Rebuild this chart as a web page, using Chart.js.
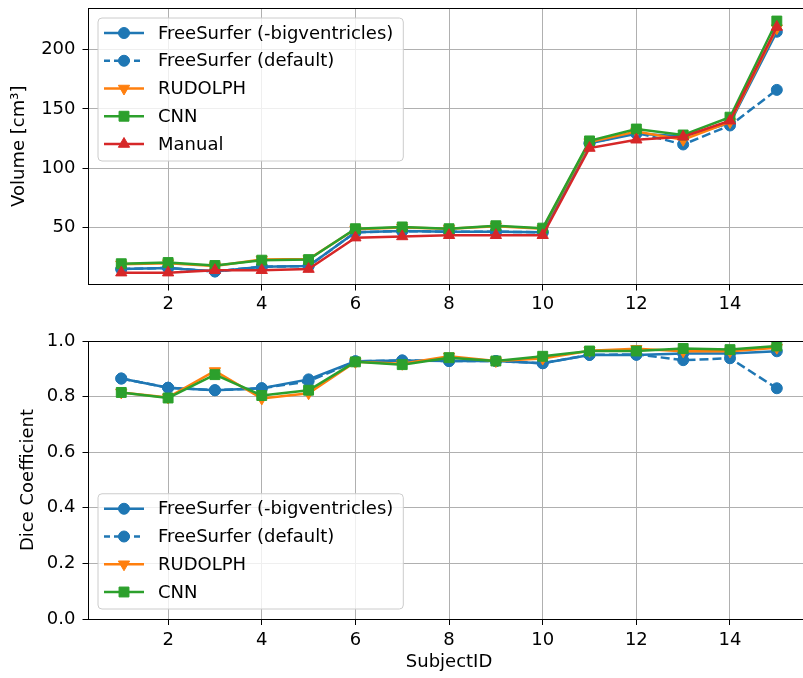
<!DOCTYPE html>
<html>
<head>
<meta charset="utf-8">
<script src="https://cdn.jsdelivr.net/npm/chart.js@4"></script>
<style>
html, body { margin: 0; padding: 0; background: #fff; overflow: hidden; width: 803px; height: 678px; }
#top { position: absolute; left: 0; top: 0; width: 820px; height: 311px; }
#bot { position: absolute; left: 0; top: 330px; width: 820px; height: 348px; }
</style>
</head>
<body>
<div id="top"><canvas id="volume"></canvas></div>
<div id="bot"><canvas id="dice"></canvas></div>
<script>
// subjects on the x axis
const subjects = [1, 2, 3, 4, 5, 6, 7, 8, 9, 10, 11, 12, 13, 14, 15];
const xTicks = [2, 4, 6, 8, 10, 12, 14];

// volumes (cm^3)
const volFsBig     = [15, 16, 13, 17, 17.5, 46, 47, 46.5, 46.5, 46, 121, 129, 127, 138, 215];
const volFsDefault = [15, 16, 13, 17, 17.5, 46, 47, 46.5, 46.5, 46, 121, 130, 120, 136, 166];
const volRudolph   = [19, 20, 17.5, 23, 23.5, 48.5, 50, 49, 51, 49, 122, 131, 124, 139, 218];
const volCnn       = [19.5, 20.5, 18, 22.5, 23, 49, 50.5, 49, 51.5, 49.5, 123, 133, 128, 143, 224];
const volManual    = [12, 12, 14, 14, 15, 41.5, 42.5, 43.5, 43.5, 43.5, 117, 124, 126.5, 140, 219];
const volTicks = [50, 100, 150, 200];

// dice coefficients
const diceFsBig     = [0.865, 0.832, 0.823, 0.83, 0.862, 0.927, 0.93, 0.928, 0.928, 0.92, 0.95, 0.95, 0.955, 0.955, 0.963];
const diceFsDefault = [0.865, 0.832, 0.823, 0.83, 0.855, 0.927, 0.93, 0.928, 0.928, 0.92, 0.95, 0.952, 0.931, 0.938, 0.83];
const diceRudolph   = [0.815, 0.797, 0.892, 0.793, 0.812, 0.925, 0.918, 0.945, 0.928, 0.937, 0.965, 0.972, 0.963, 0.963, 0.976];
const diceCnn       = [0.815, 0.795, 0.879, 0.804, 0.823, 0.925, 0.915, 0.94, 0.928, 0.945, 0.964, 0.964, 0.973, 0.969, 0.982];
const diceTicks = [0, 0.2, 0.4, 0.6, 0.8, 1.0];

const FONT = { family: 'DejaVu Sans', size: 18 };
Chart.defaults.font.family = 'DejaVu Sans';
Chart.defaults.color = '#000';

function pts(vals) {
    return subjects.map((s, i) => ({ x: s, y: vals[i] }));
}

function series(label, vals, color, style, order) {
    let ds = {
        label: label,
        data: pts(vals),
        borderColor: color,
        backgroundColor: color,
        borderWidth: 2.5,
        pointBorderWidth: 1,
        pointRadius: 5.5,
        pointHoverRadius: 5.5,
        order: order,
        tension: 0,
        fill: false
    };
    if (style == 'dash') { ds.borderDash = [9, 4]; ds.pointStyle = 'circle'; }
    if (style == 'circle') ds.pointStyle = 'circle';
    if (style == 'down') { ds.pointStyle = 'triangle'; ds.pointRotation = 180; ds.pointRadius = 6.5; }
    if (style == 'up') { ds.pointStyle = 'triangle'; ds.pointRadius = 6.5; }
    if (style == 'square') { ds.pointStyle = 'rect'; ds.pointRadius = 7; }
    return ds;
}

// top and right spines
const frame = {
    id: 'frame',
    afterDatasetsDraw(chart) {
        const a = chart.chartArea, ctx = chart.ctx;
        ctx.save();
        ctx.strokeStyle = '#000';
        ctx.lineWidth = 1;
        ctx.beginPath();
        ctx.moveTo(a.left, a.top + 0.5);
        ctx.lineTo(a.right, a.top + 0.5);
        ctx.lineTo(a.right, a.bottom);
        ctx.stroke();
        ctx.restore();
    }
};

// matplotlib-like legend inside the axes
const insideLegend = {
    id: 'insideLegend',
    afterDatasetsDraw(chart, args, opts) {
        const ctx = chart.ctx, a = chart.chartArea;
        const sets = chart.data.datasets;
        const rowH = 27.75;
        ctx.save();
        ctx.font = FONT.size + 'px ' + FONT.family;
        let tw = 0;
        sets.forEach(d => { tw = Math.max(tw, ctx.measureText(d.label).width); });
        const left = a.left + 9.5;
        const w = 60 + tw + 10;
        const h = 15 + (sets.length - 1) * rowH + 17;
        const top = opts.corner == 'bottom' ? a.bottom - 10 - h : a.top + 10;

        ctx.beginPath();
        ctx.roundRect(left, top, w, h, 4);
        ctx.fillStyle = 'rgba(255,255,255,0.8)';
        ctx.fill();
        ctx.strokeStyle = '#cccccc';
        ctx.lineWidth = 1;
        ctx.stroke();

        sets.forEach((d, i) => {
            const y = top + 15 + i * rowH;
            ctx.strokeStyle = d.borderColor;
            ctx.lineWidth = d.borderWidth;
            ctx.setLineDash(d.borderDash ? [6, 4] : []);
            ctx.beginPath();
            ctx.moveTo(left + 6, y);
            ctx.lineTo(left + 46, y);
            ctx.stroke();
            ctx.setLineDash([]);
            ctx.fillStyle = d.backgroundColor;
            ctx.strokeStyle = d.borderColor;
            ctx.lineWidth = 1;
            Chart.helpers.drawPoint(ctx, {
                pointStyle: d.pointStyle,
                rotation: d.pointRotation || 0,
                radius: d.pointRadius,
                borderWidth: 1
            }, left + 26, y);
            ctx.fillStyle = '#000';
            ctx.textBaseline = 'middle';
            ctx.fillText(d.label, left + 60, y + 1);
        });
        ctx.restore();
    }
};

function xScale(withTitle, tickPad, height) {
    return {
        type: 'linear',
        min: 0.3,
        max: 15.7,
        afterBuildTicks: axis => { axis.ticks = xTicks.map(v => ({ value: v })); },
        afterFit: axis => { axis.height = height; axis.paddingLeft = 0; axis.paddingRight = 0; },
        ticks: { font: FONT, padding: tickPad, maxRotation: 0, autoSkip: false },
        grid: { color: '#b0b0b0', lineWidth: 1, tickLength: 6, tickColor: '#000', drawTicks: true },
        border: { display: true, color: '#000', width: 1 },
        title: { display: withTitle, text: 'SubjectID', font: FONT, padding: { top: 0, bottom: 4.5 } }
    };
}

function yScale(min, max, tickVals, fmt, title, titlePad) {
    return {
        type: 'linear',
        min: min,
        max: max,
        afterBuildTicks: axis => { axis.ticks = tickVals.map(v => ({ value: v })); },
        afterFit: axis => { axis.width = 88.5; axis.paddingTop = 0; axis.paddingBottom = 0; },
        ticks: { font: FONT, padding: 7, callback: fmt },
        grid: { color: '#b0b0b0', lineWidth: 1, tickLength: 6, tickColor: '#000', drawTicks: true },
        border: { display: true, color: '#000', width: 1 },
        title: { display: true, text: title, font: FONT, padding: { top: titlePad, bottom: 0 } }
    };
}

const blue = '#1f77b4', orange = '#ff7f0e', green = '#2ca02c', red = '#d62728';

new Chart(document.getElementById('volume'), {
    type: 'line',
    data: {
        datasets: [
            series('FreeSurfer (-bigventricles)', volFsBig, blue, 'circle', 5),
            series('FreeSurfer (default)', volFsDefault, blue, 'dash', 4),
            series('RUDOLPH', volRudolph, orange, 'down', 3),
            series('CNN', volCnn, green, 'square', 2),
            series('Manual', volManual, red, 'up', 1)
        ]
    },
    options: {
        responsive: true,
        maintainAspectRatio: false,
        animation: false,
        layout: { padding: { top: 5, right: 10.4, left: 0, bottom: 0 } },
        scales: {
            x: xScale(false, 3, 26.5),
            y: yScale(2, 235, volTicks, v => String(v), 'Volume [cm\u00b3]', 8.5)
        },
        plugins: {
            legend: { display: false },
            tooltip: { enabled: false },
            insideLegend: { corner: 'top' }
        }
    },
    plugins: [frame, insideLegend]
});

new Chart(document.getElementById('dice'), {
    type: 'line',
    data: {
        datasets: [
            series('FreeSurfer (-bigventricles)', diceFsBig, blue, 'circle', 4),
            series('FreeSurfer (default)', diceFsDefault, blue, 'dash', 3),
            series('RUDOLPH', diceRudolph, orange, 'down', 2),
            series('CNN', diceCnn, green, 'square', 1)
        ]
    },
    options: {
        responsive: true,
        maintainAspectRatio: false,
        animation: false,
        layout: { padding: { top: 11, right: 10.4, left: 0, bottom: 0 } },
        scales: {
            x: xScale(true, 5, 59),
            y: yScale(0, 1, diceTicks, v => Number(v).toFixed(1), 'Dice Coefficient', 17.5)
        },
        plugins: {
            legend: { display: false },
            tooltip: { enabled: false },
            insideLegend: { corner: 'bottom' }
        }
    },
    plugins: [frame, insideLegend]
});
</script>
</body>
</html>
